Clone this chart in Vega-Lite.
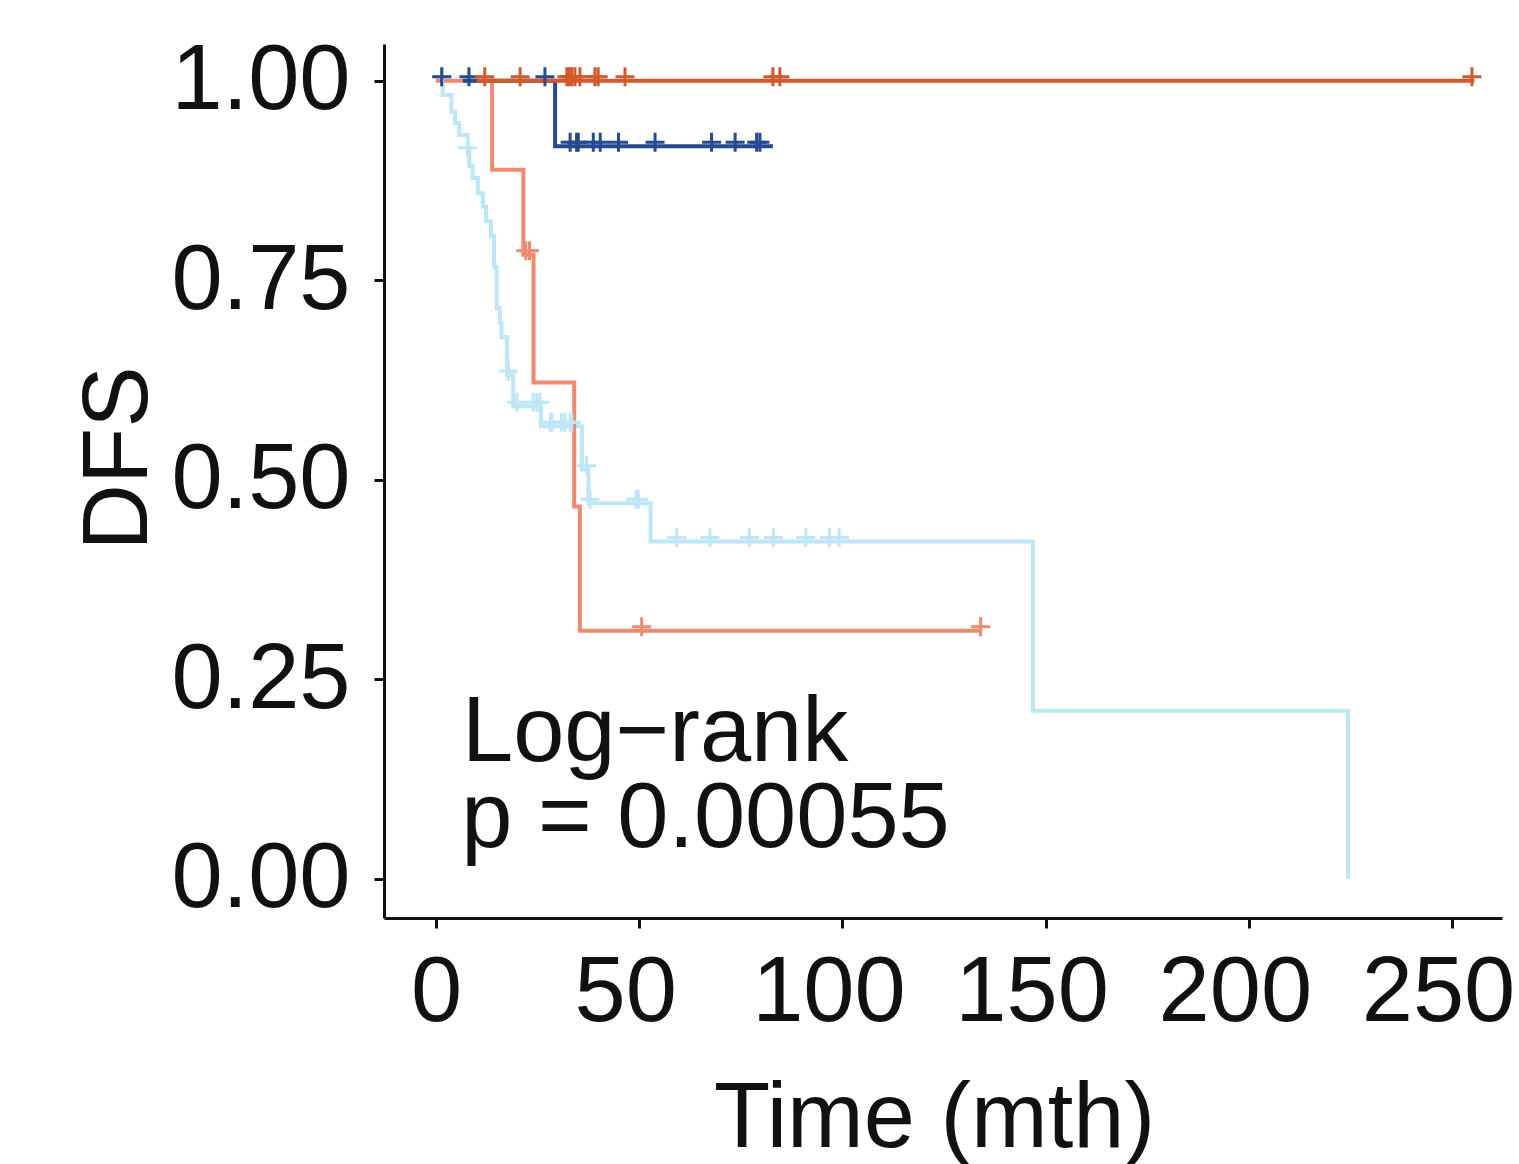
{
  "$schema": "https://vega.github.io/schema/vega-lite/v6.json",
  "width": 1118,
  "height": 874,
  "autosize": {"type": "none"},
  "padding": {"left": 384, "top": 44, "right": 17, "bottom": 246},
  "background": "white",
  "config": {
    "view": {"stroke": null},
    "font": "Liberation Sans",
    "axis": {
      "grid": false,
      "domainColor": "#111111",
      "domainWidth": 3,
      "tickColor": "#111111",
      "tickWidth": 3,
      "tickSize": 10,
      "labelFont": "Liberation Sans",
      "labelFontSize": 92,
      "labelColor": "#111111",
      "titleFont": "Liberation Sans",
      "titleFontSize": 92,
      "titleFontWeight": "normal",
      "titleColor": "#111111"
    }
  },
  "datasets": {
    "curves": [
      {"group": "D", "t": 0, "s": 1},
      {"group": "D", "t": 1.65, "s": 0.982},
      {"group": "D", "t": 3.8, "s": 0.961},
      {"group": "D", "t": 4.7, "s": 0.947},
      {"group": "D", "t": 5.7, "s": 0.932},
      {"group": "D", "t": 7.8, "s": 0.911},
      {"group": "D", "t": 8.2, "s": 0.893},
      {"group": "D", "t": 9.0, "s": 0.878},
      {"group": "D", "t": 10.3, "s": 0.859},
      {"group": "D", "t": 11.5, "s": 0.842},
      {"group": "D", "t": 12.3, "s": 0.824},
      {"group": "D", "t": 13.5, "s": 0.805},
      {"group": "D", "t": 14.3, "s": 0.767},
      {"group": "D", "t": 14.9, "s": 0.715},
      {"group": "D", "t": 15.7, "s": 0.697},
      {"group": "D", "t": 16.1, "s": 0.679},
      {"group": "D", "t": 17.5, "s": 0.631},
      {"group": "D", "t": 19.0, "s": 0.592},
      {"group": "D", "t": 25.8, "s": 0.567},
      {"group": "D", "t": 35.9, "s": 0.5125},
      {"group": "D", "t": 37.5, "s": 0.4707},
      {"group": "D", "t": 52.8, "s": 0.4227},
      {"group": "D", "t": 146.9, "s": 0.2105},
      {"group": "D", "t": 224.4, "s": 0},
      {"group": "C", "t": 0, "s": 1},
      {"group": "C", "t": 13.8, "s": 0.8885},
      {"group": "C", "t": 21.5, "s": 0.782},
      {"group": "C", "t": 24.0, "s": 0.622},
      {"group": "C", "t": 34.0, "s": 0.4665},
      {"group": "C", "t": 35.4, "s": 0.311},
      {"group": "C", "t": 134.0, "s": 0.311},
      {"group": "B", "t": 6.6, "s": 1},
      {"group": "B", "t": 29.3, "s": 0.918},
      {"group": "B", "t": 82.9, "s": 0.918},
      {"group": "A", "t": 10, "s": 1},
      {"group": "A", "t": 255.5, "s": 1}
    ],
    "censor": [
      {"group": "D", "t": 1.6, "s": 1},
      {"group": "D", "t": 7.8, "s": 0.911},
      {"group": "D", "t": 17.8, "s": 0.631},
      {"group": "D", "t": 19.9, "s": 0.592},
      {"group": "D", "t": 23.9, "s": 0.592},
      {"group": "D", "t": 24.8, "s": 0.592},
      {"group": "D", "t": 25.6, "s": 0.592},
      {"group": "D", "t": 28.1, "s": 0.567},
      {"group": "D", "t": 28.5, "s": 0.567},
      {"group": "D", "t": 30.9, "s": 0.567},
      {"group": "D", "t": 31.7, "s": 0.567},
      {"group": "D", "t": 33.0, "s": 0.567},
      {"group": "D", "t": 33.4, "s": 0.567},
      {"group": "D", "t": 37.1, "s": 0.5125},
      {"group": "D", "t": 37.9, "s": 0.4707},
      {"group": "D", "t": 49.2, "s": 0.4707},
      {"group": "D", "t": 49.8, "s": 0.4707},
      {"group": "D", "t": 59.2, "s": 0.4227},
      {"group": "D", "t": 67.4, "s": 0.4227},
      {"group": "D", "t": 77.1, "s": 0.4227},
      {"group": "D", "t": 83.0, "s": 0.4227},
      {"group": "D", "t": 91.0, "s": 0.4227},
      {"group": "D", "t": 96.8, "s": 0.4227},
      {"group": "D", "t": 99.2, "s": 0.4227},
      {"group": "C", "t": 22.1, "s": 0.782},
      {"group": "C", "t": 23.0, "s": 0.782},
      {"group": "C", "t": 50.6, "s": 0.311},
      {"group": "C", "t": 134.0, "s": 0.311},
      {"group": "B", "t": 1.4, "s": 1},
      {"group": "B", "t": 8.1, "s": 1},
      {"group": "B", "t": 26.8, "s": 1},
      {"group": "B", "t": 33.0, "s": 0.918},
      {"group": "B", "t": 34.6, "s": 0.918},
      {"group": "B", "t": 35.0, "s": 0.918},
      {"group": "B", "t": 38.7, "s": 0.918},
      {"group": "B", "t": 40.4, "s": 0.918},
      {"group": "B", "t": 44.9, "s": 0.918},
      {"group": "B", "t": 53.9, "s": 0.918},
      {"group": "B", "t": 67.8, "s": 0.918},
      {"group": "B", "t": 73.6, "s": 0.918},
      {"group": "B", "t": 78.9, "s": 0.918},
      {"group": "B", "t": 79.7, "s": 0.918},
      {"group": "A", "t": 12.0, "s": 1},
      {"group": "A", "t": 20.7, "s": 1},
      {"group": "A", "t": 32.2, "s": 1},
      {"group": "A", "t": 32.8, "s": 1},
      {"group": "A", "t": 33.4, "s": 1},
      {"group": "A", "t": 34.2, "s": 1},
      {"group": "A", "t": 35.4, "s": 1},
      {"group": "A", "t": 39.1, "s": 1},
      {"group": "A", "t": 39.9, "s": 1},
      {"group": "A", "t": 46.5, "s": 1},
      {"group": "A", "t": 82.9, "s": 1},
      {"group": "A", "t": 84.6, "s": 1},
      {"group": "A", "t": 254.9, "s": 1}
    ],
    "notes": [
      {"t": 6.4, "s": 0.148, "label": "Log−rank"},
      {"t": 6.2, "s": 0.0405, "label": "p = 0.00055"}
    ]
  },
  "encoding": {
    "x": {
      "field": "t",
      "type": "quantitative",
      "scale": {"domain": [-12.8, 262.3], "nice": false, "zero": false},
      "axis": {
        "values": [0, 50, 100, 150, 200, 250],
        "labelPadding": 19,
        "labelOffset": {"condition": {"test": "datum.value === 0", "value": 0}, "value": -14},
        "title": "Time (mth)",
        "titleAnchor": "middle",
        "titleBaseline": "alphabetic",
        "titleX": 550,
        "titleY": 228
      }
    },
    "y": {
      "field": "s",
      "type": "quantitative",
      "scale": {"domain": [-0.049, 1.046], "nice": false, "zero": false},
      "axis": {
        "values": [0, 0.25, 0.5, 0.75, 1],
        "format": ".2f",
        "labelPadding": 24,
        "title": "DFS",
        "titleAngle": -90,
        "titleAlign": "center",
        "titleBaseline": "alphabetic",
        "titleX": -238,
        "titleY": 414
      }
    }
  },
  "layer": [
    {
      "data": {"name": "curves"},
      "transform": [{"filter": "datum.group === 'D'"}],
      "mark": {"type": "line", "interpolate": "step-after", "color": "#BEE6F7", "strokeWidth": 4}
    },
    {
      "data": {"name": "curves"},
      "transform": [{"filter": "datum.group === 'C'"}],
      "mark": {"type": "line", "interpolate": "step-after", "color": "#EE8A6F", "strokeWidth": 4}
    },
    {
      "data": {"name": "curves"},
      "transform": [{"filter": "datum.group === 'B'"}],
      "mark": {"type": "line", "interpolate": "step-after", "color": "#26498F", "strokeWidth": 4}
    },
    {
      "data": {"name": "curves"},
      "transform": [{"filter": "datum.group === 'A'"}],
      "mark": {"type": "line", "interpolate": "step-after", "color": "#D2592C", "strokeWidth": 4}
    },
    {
      "data": {"name": "censor"},
      "mark": {"type": "point", "shape": "M-1,0H1M0,-1V1", "filled": false, "strokeWidth": 3, "size": 361, "yOffset": -4, "opacity": 1},
      "encoding": {
        "color": {
          "field": "group",
          "type": "nominal",
          "scale": {"domain": ["D", "C", "B", "A"], "range": ["#BEE6F7", "#EE8A6F", "#26498F", "#D2592C"]},
          "legend": null
        }
      }
    },
    {
      "data": {"name": "notes"},
      "mark": {"type": "text", "align": "left", "baseline": "alphabetic", "fontSize": 92, "color": "#111111", "font": "Liberation Sans"},
      "encoding": {"text": {"field": "label"}}
    }
  ]
}
